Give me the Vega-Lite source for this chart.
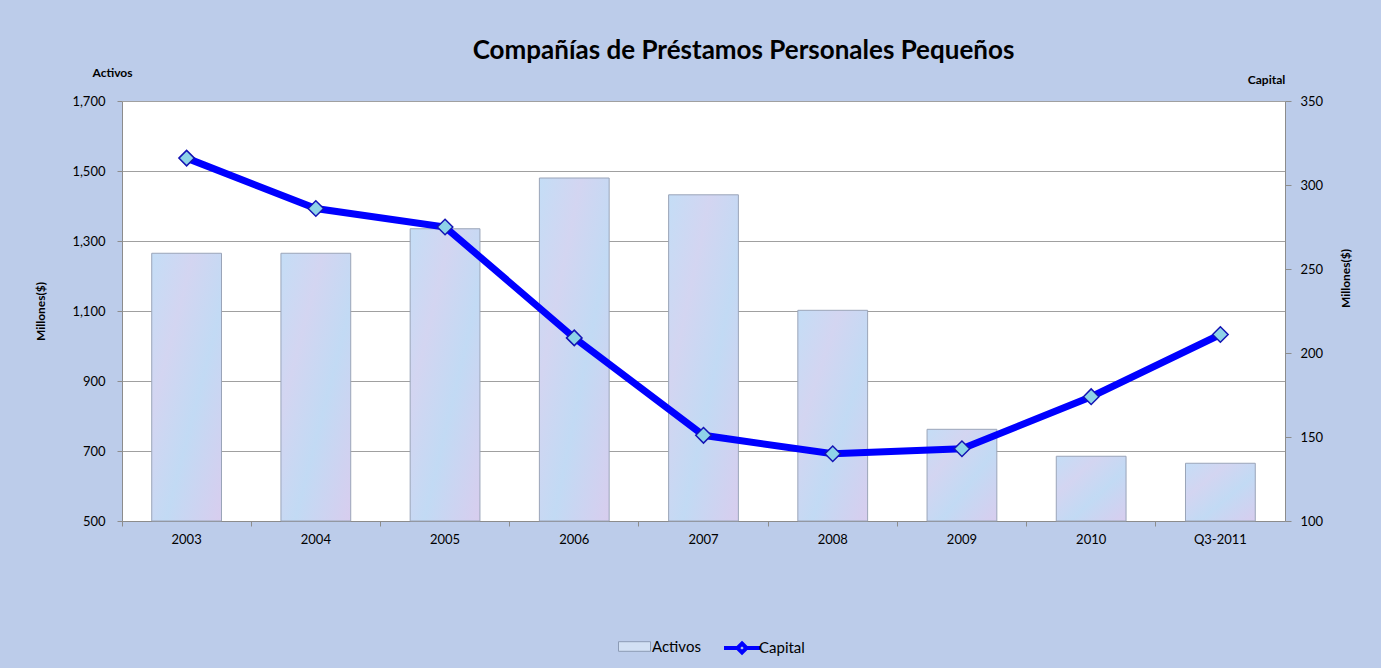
{
  "$schema": "https://vega.github.io/schema/vega-lite/v6.json",
  "width": 1163,
  "height": 420,
  "autosize": {"type": "none"},
  "padding": {"left": 122, "top": 101, "right": 96, "bottom": 147},
  "background": "#BCCCEA",
  "title": {
    "text": "Compañías de Préstamos Personales Pequeños",
    "font": "Lato",
    "fontSize": 26,
    "fontWeight": "bold",
    "color": "#000000",
    "anchor": "middle",
    "dx": 40,
    "offset": 2
  },
  "data": {
    "values": [
      {"Periodo": "2003", "Activos": 1265, "Capital": 316},
      {"Periodo": "2004", "Activos": 1265, "Capital": 286},
      {"Periodo": "2005", "Activos": 1335, "Capital": 275},
      {"Periodo": "2006", "Activos": 1480, "Capital": 209},
      {"Periodo": "2007", "Activos": 1432, "Capital": 151},
      {"Periodo": "2008", "Activos": 1102, "Capital": 140},
      {"Periodo": "2009", "Activos": 762, "Capital": 143},
      {"Periodo": "2010", "Activos": 685, "Capital": 174},
      {"Periodo": "Q3-2011", "Activos": 665, "Capital": 211}
    ]
  },
  "config": {
    "view": {"stroke": null, "fill": "#FFFFFF"},
    "axis": {
      "labelFont": "Lato",
      "labelFontSize": 13,
      "labelColor": "#000000",
      "titleFont": "Lato",
      "titleFontSize": 12,
      "titleFontWeight": "bold",
      "titleColor": "#000000",
      "domainColor": "#8C8C8C",
      "tickColor": "#8C8C8C",
      "gridColor": "#A0A0A0",
      "gridWidth": 1,
      "domainWidth": 1
    },
    "axisX": {
      "title": null,
      "labelAngle": 0,
      "bandPosition": -0.4259,
      "tickSize": 5,
      "labelPadding": 7,
      "grid": false
    },
    "legend": {
      "labelFont": "Lato",
      "labelFontSize": 15,
      "labelColor": "#000000"
    }
  },
  "layer": [
    {
      "mark": {
        "type": "bar",
        "fill": {
          "gradient": "linear",
          "x1": 0, "y1": 0, "x2": 1, "y2": 1,
          "stops": [
            {"offset": 0, "color": "#C4DDF6"},
            {"offset": 0.3, "color": "#D3D5F1"},
            {"offset": 0.6, "color": "#C2DAF4"},
            {"offset": 1, "color": "#D8CDEE"}
          ]
        },
        "stroke": "#9AA4B8",
        "strokeWidth": 1
      },
      "encoding": {
        "x": {
          "field": "Periodo",
          "type": "nominal",
          "sort": null,
          "title": null,
          "scale": {"paddingInner": 0.46, "paddingOuter": 0.23}
        },
        "y": {
          "field": "Activos",
          "type": "quantitative",
          "scale": {"domain": [500, 1700], "zero": false, "nice": false},
          "axis": {
            "orient": "left",
            "values": [500, 700, 900, 1100, 1300, 1500, 1700],
            "format": ",.0f",
            "grid": true,
            "tickSize": 5,
            "labelPadding": 12,
            "title": "Millones($)",
            "titleAngle": -90,
            "titleX": -82,
            "titleY": 210,
            "titleAlign": "center",
            "titleBaseline": "middle"
          }
        },
        "y2": {"datum": 500}
      }
    },
    {
      "mark": {
        "type": "line",
        "color": "#0000FF",
        "strokeWidth": 7,
        "point": {
          "shape": "diamond",
          "size": 240,
          "filled": true,
          "fill": "#8ED3E8",
          "stroke": "#1414B4",
          "strokeWidth": 1.5
        }
      },
      "encoding": {
        "x": {"field": "Periodo", "type": "nominal", "sort": null, "title": null},
        "y": {
          "field": "Capital",
          "type": "quantitative",
          "scale": {"domain": [100, 350], "zero": false, "nice": false},
          "axis": {
            "orient": "right",
            "values": [100, 150, 200, 250, 300, 350],
            "grid": false,
            "tickSize": 6,
            "labelPadding": 9,
            "title": "Millones($)",
            "titleAngle": -90,
            "titleX": 60,
            "titleY": 177,
            "titleAlign": "center",
            "titleBaseline": "middle"
          }
        }
      }
    },
    {
      "mark": {"type": "point", "opacity": 0, "filled": true},
      "encoding": {
        "x": {"field": "Periodo", "type": "nominal", "sort": null, "title": null},
        "y": {
          "field": "Activos",
          "type": "quantitative",
          "scale": {"domain": [500, 1700], "zero": false, "nice": false},
          "axis": {
            "orient": "left",
            "labels": false,
            "ticks": false,
            "domain": false,
            "grid": false,
            "title": "Activos",
            "titleAngle": 0,
            "titleX": -10,
            "titleY": -29,
            "titleAlign": "center",
            "titleBaseline": "middle"
          }
        },
        "fill": {
          "datum": "Activos",
          "type": "nominal",
          "scale": {"domain": ["Activos"], "range": ["#D2E0F4"]},
          "legend": {
            "title": null,
            "orient": "none",
            "legendX": 496,
            "legendY": 529,
            "padding": 0,
            "symbolType": "M-1,-0.3H1V0.3H-1Z",
            "symbolSize": 1024,
            "symbolOpacity": 1,
            "symbolStrokeColor": "#8C9BB5",
            "symbolStrokeWidth": 1,
            "labelOffset": 1
          }
        }
      }
    },
    {
      "mark": {"type": "point", "opacity": 0},
      "encoding": {
        "x": {"field": "Periodo", "type": "nominal", "sort": null, "title": null},
        "y": {
          "field": "Capital",
          "type": "quantitative",
          "scale": {"domain": [100, 350], "zero": false, "nice": false},
          "axis": {
            "orient": "right",
            "labels": false,
            "ticks": false,
            "domain": false,
            "grid": false,
            "title": "Capital",
            "titleAngle": 0,
            "titleX": -19,
            "titleY": -22,
            "titleAlign": "center",
            "titleBaseline": "middle"
          }
        },
        "stroke": {
          "datum": "Capital",
          "type": "nominal",
          "scale": {"domain": ["Capital"], "range": ["#0000FF"]},
          "legend": {
            "title": null,
            "orient": "none",
            "legendX": 600,
            "legendY": 527,
            "padding": 0,
            "symbolType": "M-1,0H-0.25M0.25,0H1M0,-0.25L0.25,0L0,0.25L-0.25,0Z",
            "symbolSize": 1296,
            "symbolOpacity": 1,
            "symbolFillColor": "#8ED3E8",
            "symbolStrokeWidth": 4,
            "labelOffset": -3
          }
        }
      }
    }
  ],
  "resolve": {"scale": {"y": "independent"}, "axis": {"y": "independent"}}
}
